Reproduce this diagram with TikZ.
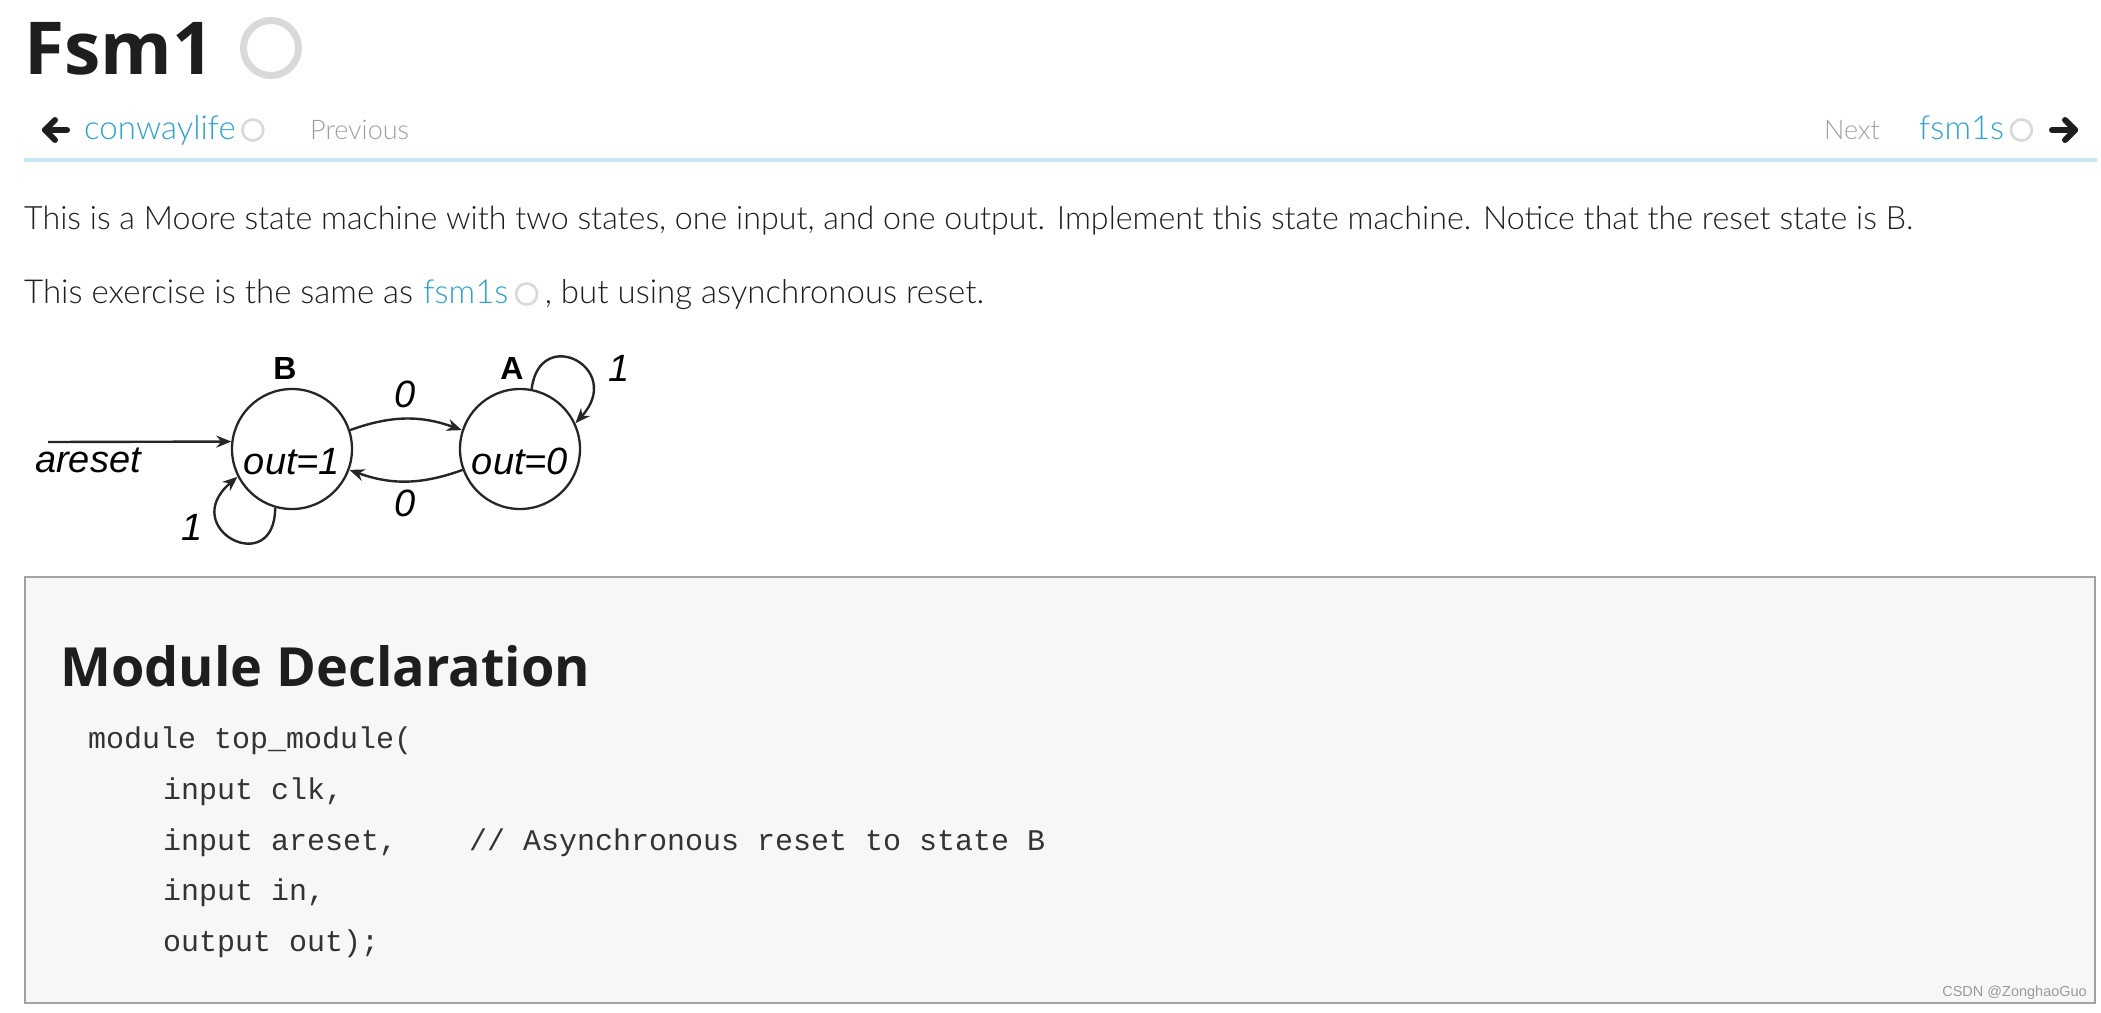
\documentclass[tikz,border=0pt]{standalone}
\usepackage{fontspec}
\setmainfont{Liberation Sans}
\newfontfamily\titlefont{Open Sans}
\newfontfamily\bodyfont{Lato Light}
\newfontfamily\diagfont{Liberation Sans}
\newfontfamily\codefont{Liberation Mono}
\usetikzlibrary{arrows.meta}
\definecolor{txt}{HTML}{1E1E1E}
\definecolor{linkc}{HTML}{2EA3D2}
\definecolor{navgray}{HTML}{A0A0A0}
\definecolor{ringc}{HTML}{D9D9D9}
\definecolor{rulec}{HTML}{C3E8F0}
\definecolor{boxfill}{HTML}{F7F7F7}
\definecolor{boxborder}{HTML}{A3A3A3}
\definecolor{codec}{HTML}{333333}
\definecolor{wmc}{HTML}{9A9A9A}
\begin{document}
\begin{tikzpicture}[x=1pt,y=-1pt,
  titlestyle/.style={anchor=base west, inner sep=0, text=txt, font=\titlefont\bfseries\fontsize{73}{80}\selectfont},
  body/.style={anchor=base west, inner sep=0, text=txt, font=\bodyfont\fontsize{32.2}{38}\selectfont},
  bodyb/.style={body, font=\bodyfont\fontsize{33}{38}\selectfont},
  navtext/.style={body, font=\bodyfont\fontsize{33}{38}\selectfont},
  navgraytext/.style={body, text=navgray, font=\bodyfont\fontsize{27}{32}\selectfont},
  ring/.style={circle, draw=ringc, line width=2.6, minimum size=21, inner sep=0},
  navarrow/.style={line width=6, line cap=round, line join=round, draw=txt},
  state/.style={circle, draw=black!85, line width=2.3, minimum size=120, inner sep=0, font=\diagfont\itshape\fontsize{38}{40}\selectfont},
  statelab/.style={inner sep=0, font=\diagfont\bfseries\fontsize{32}{34}\selectfont},
  lab/.style={inner sep=0, font=\diagfont\itshape\fontsize{38}{40}\selectfont},
  edge/.style={line width=2.4, draw=black!85, -{Stealth[length=15,width=12]}},
  heading/.style={anchor=base west, inner sep=0, text=txt, font=\titlefont\bfseries\fontsize{54}{60}\selectfont},
  code/.style={anchor=base west, inner sep=0, text=codec, font=\codefont\fontsize{30}{36}\selectfont},
]
\useasboundingbox (0,0) rectangle (2101,1012);
\fill[white] (0,0) rectangle (2101,1012);

% title
\node[titlestyle] (title) at (24,74) {Fsm1};
\node[ring, line width=7, minimum size=55] (titlering) at (271,48) {};

% navigation
\draw[navarrow] (67,130) -- (45,130);
\draw[navarrow] (55,120) -- (45,130) -- (55,140);
\node[navtext, text=linkc] (prevlink) at (84,139) {conwaylife};
\node[ring] (prevring) at ([shift={(17,-9)}]prevlink.base east) {};
\node[navgraytext] (prev) at (310,139) {Previous};
\node[navgraytext, anchor=base east] (next) at (1880,139) {Next};
\node[navtext, text=linkc] (nextlink) at (1919,139) {fsm1s};
\node[ring] (nextring) at ([shift={(17,-9)}]nextlink.base east) {};
\draw[navarrow] (2052,130) -- (2075,130);
\draw[navarrow] (2065,120) -- (2075,130) -- (2065,140);
\draw[rulec, line width=4] (24,160) -- (2097,160);

% paragraphs
\node[body] (p1) at (24,229) {This is a Moore state machine with two states, one input, and one output. Implement this state machine. Notice that the reset state is B.};
\node[bodyb] (p2a) at (24,303) {This exercise is the same as};
\node[bodyb, text=linkc] (p2b) at ([shift={(10,0)}]p2a.base east) {fsm1s};
\node[ring] (p2ring) at ([shift={(18,-9)}]p2b.base east) {};
\node[bodyb] (p2c) at ([shift={(36,0)}]p2b.base east) {, but using asynchronous reset.};

% state diagram
\node[state] (B) at (292,449) {\raisebox{-25pt}[0pt][0pt]{out=1}};
\node[state] (A) at (520,449) {\raisebox{-25pt}[0pt][0pt]{out=0}};
\node[statelab] (Blab) at (285,368) {B};
\node[statelab] (Alab) at (512,368) {A};
\coordinate (rstart) at (48,442);
\draw[edge] (rstart) -- (B.173);
\node[lab] (aresetlab) at (88,460) {areset};
\draw[edge] (B.18) to[bend left=20] (A.162);
\node[lab] (l0top) at (405,394) {0};
\draw[edge] (A.200) to[bend left=20] (B.-20);
\node[lab] (l0bot) at (405,503) {0};
\draw[edge] (A.79) .. controls +(8,-65) and +(50,-55) .. (A.25);
\node[lab] (l1a) at (619,368) {1};
\draw[edge] (B.-106) .. controls +(0,72) and +(-61,52) .. (B.207);
\node[lab] (l1b) at (192,527) {1};

% module declaration box
\node[draw=boxborder, fill=boxfill, line width=2, minimum width=2070, minimum height=426, anchor=north west, inner sep=0] (box) at (24,576) {};
\node[heading] (mdh) at (60,686) {Module Declaration};
\node[code] (c1) at (88,748) {module top\_module(};
\node[code] (c2) at (163,799) {input clk,};
\node[code] (c3) at (163,850) {input areset,\ \ \ \ // Asynchronous reset to state B};
\node[code] (c4) at (163,900) {input in,};
\node[code] (c5) at (163,951) {output out);};
\node[anchor=east, inner sep=0, text=wmc, font=\diagfont\fontsize{14.5}{17}\selectfont] (wm) at (2087,993) {CSDN @ZonghaoGuo};
\end{tikzpicture}
\end{document}
